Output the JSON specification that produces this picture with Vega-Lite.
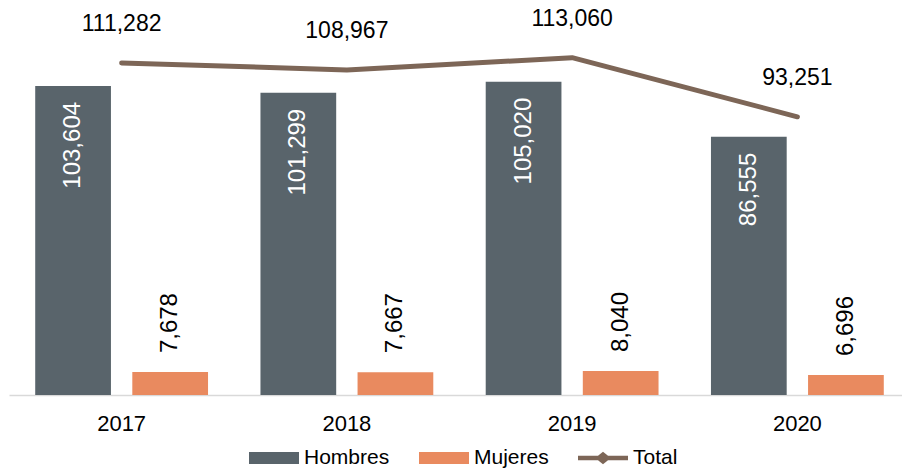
{
  "$schema": "https://vega.github.io/schema/vega-lite/v6.json",
  "width": 901,
  "height": 395,
  "autosize": {"type": "none"},
  "padding": {"left": 9, "top": 0, "right": 0, "bottom": 75},
  "config": {
    "view": {"stroke": null},
    "font": "Liberation Sans",
    "text": {"font": "Liberation Sans"}
  },
  "datasets": {
    "bars": [
      {"year": "2017", "sexo": "Hombres", "value": 103604},
      {"year": "2017", "sexo": "Mujeres", "value": 7678},
      {"year": "2018", "sexo": "Hombres", "value": 101299},
      {"year": "2018", "sexo": "Mujeres", "value": 7667},
      {"year": "2019", "sexo": "Hombres", "value": 105020},
      {"year": "2019", "sexo": "Mujeres", "value": 8040},
      {"year": "2020", "sexo": "Hombres", "value": 86555},
      {"year": "2020", "sexo": "Mujeres", "value": 6696}
    ],
    "totals": [
      {"year": "2017", "serie": "Total", "value": 111282},
      {"year": "2018", "serie": "Total", "value": 108967},
      {"year": "2019", "serie": "Total", "value": 113060},
      {"year": "2020", "serie": "Total", "value": 93251}
    ]
  },
  "encoding": {
    "x": {
      "field": "year", "type": "nominal",
      "scale": {"paddingInner": 0, "paddingOuter": 0},
      "axis": {
        "title": null, "labelAngle": 0, "labelFontSize": 22, "labelColor": "#000000",
        "labelPadding": 18, "ticks": false, "domainColor": "#d9d9d9", "domainWidth": 1.5,
        "labelFont": "Liberation Sans"
      }
    },
    "y": {
      "field": "value", "type": "quantitative",
      "scale": {"domain": [0, 132400], "nice": false},
      "axis": null
    }
  },
  "layer": [
    {
      "data": {"name": "bars"},
      "mark": {"type": "bar"},
      "encoding": {
        "xOffset": {"field": "sexo", "type": "nominal", "scale": {"paddingInner": 0.22, "paddingOuter": 0.27}},
        "color": {
          "field": "sexo", "type": "nominal",
          "scale": {"domain": ["Hombres", "Mujeres", "Total"], "range": ["#59646b", "#e98a5f", "#7d6657"]},
          "legend": {
            "title": null,
            "orient": "none",
            "legendX": 240,
            "legendY": 433,
            "direction": "horizontal",
            "columns": 3,
            "gridAlign": "none",
            "columnPadding": 29,
            "labelFontSize": 21,
            "labelFont": "Liberation Sans",
            "labelColor": "#000000",
            "labelOffset": 5,
            "symbolSize": 2500,
            "symbolStrokeWidth": 0,
            "encode": {
              "symbols": {
                "update": {
                  "shape": {"signal": "datum.label === 'Total' ? 'M-1,-0.09L-0.2,-0.09L0,-0.25L0.2,-0.09L1,-0.09L1,0.09L0.2,0.09L0,0.25L-0.2,0.09L-1,0.09Z' : 'M-1,-0.24L1,-0.24L1,0.24L-1,0.24Z'"},
                  "fill": {"signal": "scale('color', datum.value)"},
                  "fillOpacity": {"value": 1},
                  "strokeWidth": {"value": 0}
                }
              }
            }
          }
        }
      }
    },
    {
      "data": {"name": "bars"},
      "transform": [{"filter": "datum.sexo === 'Hombres'"}],
      "mark": {"type": "text", "angle": 270, "align": "right", "baseline": "middle", "dx": -16, "fontSize": 24, "color": "#ffffff", "font": "Liberation Sans"},
      "encoding": {
        "xOffset": {"field": "sexo", "type": "nominal", "scale": {"paddingInner": 0.22, "paddingOuter": 0.27}},
        "text": {"field": "value", "type": "quantitative", "format": ","}
      }
    },
    {
      "data": {"name": "bars"},
      "transform": [{"filter": "datum.sexo === 'Mujeres'"}],
      "mark": {"type": "text", "angle": 270, "align": "left", "baseline": "middle", "dx": 19, "fontSize": 24, "color": "#000000", "font": "Liberation Sans"},
      "encoding": {
        "xOffset": {"field": "sexo", "type": "nominal", "scale": {"paddingInner": 0.22, "paddingOuter": 0.27}},
        "text": {"field": "value", "type": "quantitative", "format": ","}
      }
    },
    {
      "data": {"name": "totals"},
      "mark": {"type": "line", "strokeWidth": 5, "strokeCap": "round", "strokeJoin": "round"},
      "encoding": {
        "color": {"field": "serie", "type": "nominal"}
      }
    },
    {
      "data": {"name": "totals"},
      "mark": {"type": "text", "dy": -39, "fontSize": 23, "color": "#000000", "font": "Liberation Sans"},
      "encoding": {
        "text": {"field": "value", "type": "quantitative", "format": ","}
      }
    }
  ]
}
